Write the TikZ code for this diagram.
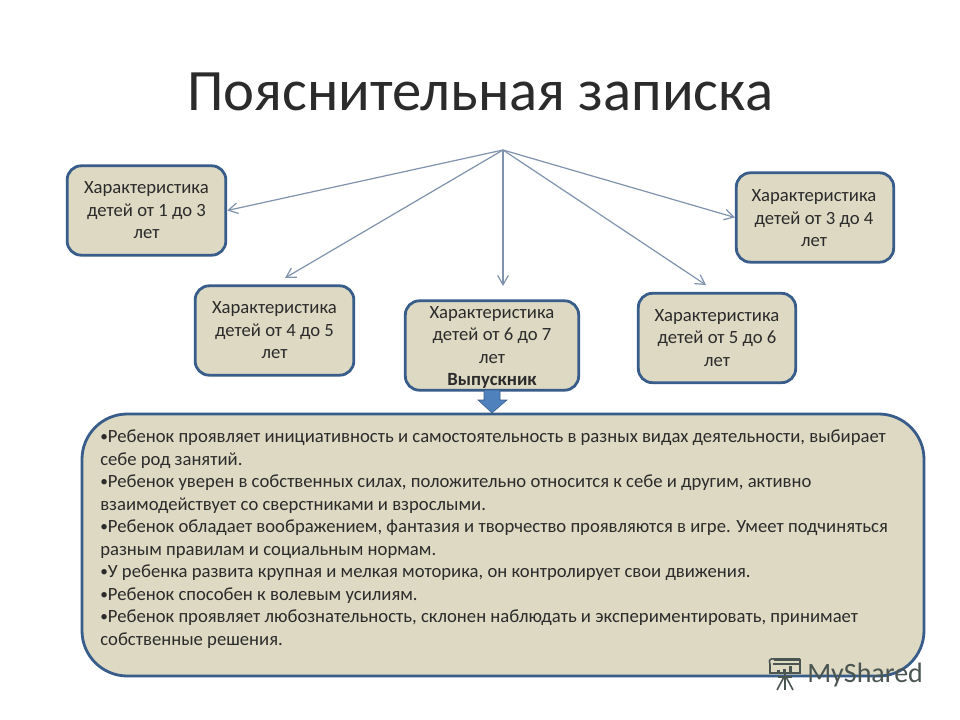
\documentclass[tikz,border=0pt]{standalone}
\usepackage{fontspec}
\setmainfont{Carlito}
\usetikzlibrary{arrows.meta}
\definecolor{boxfill}{HTML}{DDD9C3}
\definecolor{boxline}{HTML}{385D8A}
\definecolor{wirecol}{HTML}{7F93AE}
\definecolor{ink}{HTML}{2B2B2B}
\definecolor{wmgray}{HTML}{4A5552}
\definecolor{bluearrow}{HTML}{4F81BD}
\newcommand{\smallbul}{\raisebox{0.8pt}{\fontsize{11.5}{11.5}\selectfont •}}
\tikzset{
  smallbox/.style={draw=boxline,line width=2.1pt,fill=boxfill,rounded corners=10.5pt,inner sep=0pt,
    text=ink,align=center,font=\fontsize{14}{16.9}\selectfont},
  boxlabel/.style={inner sep=0pt,text=ink,align=center,font=\fontsize{14}{16.9}\selectfont},
  bigbox/.style={draw=boxline,line width=2.1pt,fill=boxfill,rounded corners=34pt,inner sep=0pt},
  wire/.style={draw=wirecol,line width=0.9pt,-{Straight Barb[length=7pt,width=8pt]}},
  bodytext/.style={text=ink,align=left,anchor=north west,inner sep=0pt,font=\fontsize{14}{16.9}\selectfont},
}
\begin{document}
\begin{tikzpicture}[x=0.75pt,y=-0.75pt]
\useasboundingbox (0,0) rectangle (960,720);
\fill[white] (0,0) rectangle (960,720);
\node[text=ink,font=\fontsize{44}{50}\selectfont] (title) at (480,92) {Пояснительная записка};
\coordinate (apex) at (503,150);
\coordinate (end2) at (285,278);
\coordinate (end3) at (503,286);
\coordinate (end4) at (706,285);
\node[smallbox,minimum width=119pt,minimum height=67pt] (b1) at (146.5,210.5) {Характеристика\\детей от 1 до 3\\лет};
\node[smallbox,minimum width=119pt,minimum height=67pt] (b2) at (274.5,330.5) {Характеристика\\детей от 4 до 5\\лет};
\node[smallbox,minimum width=130pt,minimum height=67pt] (b3) at (492,345.5) {};
\node[boxlabel] (t3) at (492,347.5) {Характеристика\\детей от 6 до 7\\лет\\\textbf{Выпускник}};
\node[smallbox,minimum width=118pt,minimum height=67pt] (b4) at (717,338) {Характеристика\\детей от 5 до 6\\лет};
\node[smallbox,minimum width=118pt,minimum height=67pt] (b5) at (815,217.5) {};
\node[boxlabel] (t5) at (814,218.5) {Характеристика\\детей от 3 до 4\\лет};
\draw[wire] (apex) -- (b1.east);
\draw[wire] (apex) -- (end2);
\draw[wire] (apex) -- (end3);
\draw[wire] (apex) -- (end4);
\draw[wire] (apex) -- (b5.west);
\fill[bluearrow,draw=boxline,line width=0.4pt] (484,390) -- (500,390) -- (500,400) -- (507,400) -- (492,413) -- (478,400) -- (484,400) -- cycle;
\node[bigbox,minimum width=631.5pt,minimum height=196.5pt] (main) at (503,545) {};
\node[bodytext] (list) at (100,429.5) {\smallbul Ребенок проявляет инициативность и самостоятельность в разных видах деятельности, выбирает\\
себе род занятий.\\
\smallbul Ребенок уверен в собственных силах, положительно относится к себе и другим, активно\\
взаимодействует со сверстниками и взрослыми.\\
\smallbul Ребенок обладает воображением, фантазия и творчество проявляются в игре. Умеет подчиняться\\
разным правилам и социальным нормам.\\
\smallbul У ребенка развита крупная и мелкая моторика, он контролирует свои движения.\\
\smallbul Ребенок способен к волевым усилиям.\\
\smallbul Ребенок проявляет любознательность, склонен наблюдать и экспериментировать, принимает\\
собственные решения.};
% watermark
\node[text=wmgray,anchor=west,inner sep=0pt,font=\fontsize{21}{24}\selectfont] (wm) at (807,675) {MyShared};
\begin{scope}[draw=wmgray,line width=1.2pt]
\draw (770,664) -- (770,673) -- (800,673) -- (800,660) -- (774,660);
\draw (770,664) .. controls (768,660) and (771,658) .. (774,659) -- (800,659);
\draw (773,664) -- (799,664);
\draw (785,673) -- (785,690);
\draw (785,675) -- (777,690);
\draw (785,675) -- (793,690);
\draw (778,677) -- (792,677);
\fill[wmgray] (777,670) rectangle (780,673);
\fill[wmgray] (783,669) rectangle (786,673);
\fill[wmgray] (789,666) rectangle (792,673);
\end{scope}
\end{tikzpicture}
\end{document}
